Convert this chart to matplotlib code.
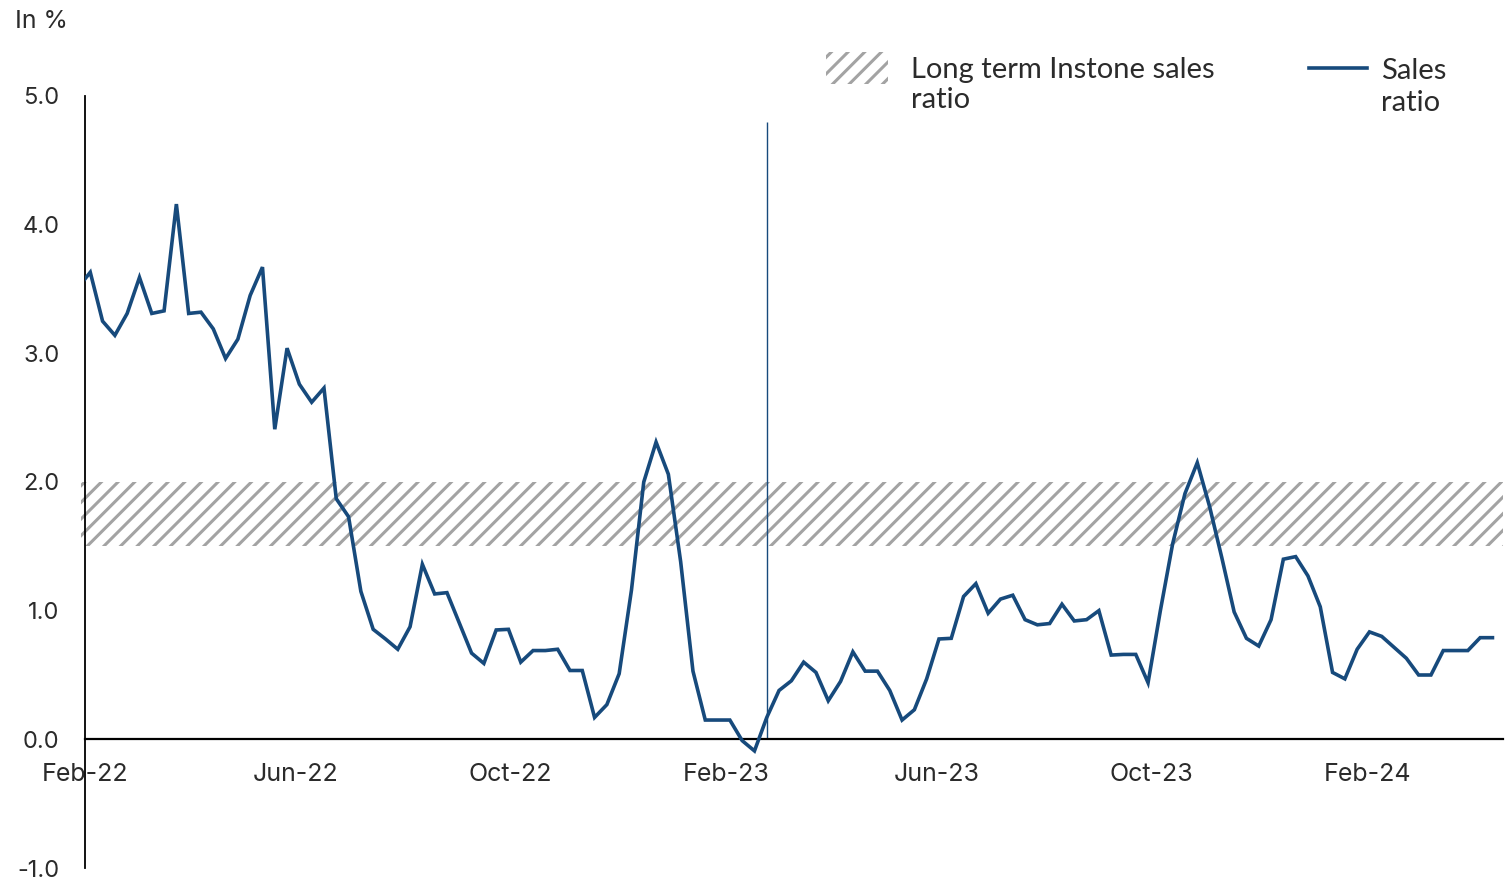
import matplotlib
matplotlib.use("Agg")
import matplotlib.pyplot as plt
import matplotlib.transforms as mtransforms
from matplotlib.patches import Rectangle
from matplotlib.lines import Line2D
import pandas as pd

plt.rcParams['font.family'] = ['Inter', 'DejaVu Sans']
plt.rcParams['hatch.linewidth'] = 2.2

# ---------------- data ----------------
start_date = "2022-01-28"          # weekly observations
sales_ratio = [
    3.51, 3.63, 3.25, 3.14, 3.31, 3.59, 3.31, 3.33, 4.16, 3.31,
    3.32, 3.19, 2.96, 3.11, 3.45, 3.67, 2.41, 3.04, 2.76, 2.62,
    2.73, 1.87, 1.73, 1.15, 0.855, 0.78, 0.70, 0.875, 1.36, 1.13,
    1.14, 0.905, 0.67, 0.59, 0.85, 0.855, 0.60, 0.69, 0.69, 0.70,
    0.535, 0.535, 0.17, 0.27, 0.51, 1.16, 2.00, 2.31, 2.06, 1.38,
    0.53, 0.15, 0.15, 0.15, -0.01, -0.09, 0.17, 0.38, 0.455, 0.60,
    0.52, 0.30, 0.45, 0.68, 0.53, 0.53, 0.38, 0.15, 0.23, 0.47,
    0.78, 0.785, 1.11, 1.21, 0.98, 1.09, 1.12, 0.93, 0.89, 0.90,
    1.05, 0.92, 0.93, 1.00, 0.655, 0.66, 0.66, 0.44, 1.00, 1.52,
    1.91, 2.15, 1.81, 1.41, 0.99, 0.785, 0.725, 0.93, 1.40, 1.42,
    1.27, 1.03, 0.52, 0.47, 0.70, 0.835, 0.80, 0.715, 0.63, 0.50,
    0.50, 0.69, 0.69, 0.69, 0.79, 0.79,
]
band_low, band_high = 1.5, 2.0
marker_date = "2023-02-24"
marker_top = 4.8
x_start, x_end = "2022-02-01", "2024-04-18"
x_tick_dates = ["2022-02-01", "2022-06-01", "2022-10-01", "2023-02-01",
                "2023-06-01", "2023-10-01", "2024-02-01"]
x_tick_labels = ["Feb-22", "Jun-22", "Oct-22", "Feb-23", "Jun-23", "Oct-23", "Feb-24"]
y_ticks = [-1.0, 0.0, 1.0, 2.0, 3.0, 4.0, 5.0]
y_tick_labels = ["-1.0", "0.0", "1.0", "2.0", "3.0", "4.0", "5.0"]
unit_label = "In %"
band_label = ["Long term Instone sales", "ratio"]
line_label = ["Sales", "ratio"]

# ---------------- style ----------------
LINE_C = "#174a7c"
HATCH_C = "#a3a3a3"
TXT_C = "#2b2b2b"
LEG_FONT = ['Lato', 'DejaVu Sans']
W, H = 1506, 880

dates = pd.date_range(start_date, periods=len(sales_ratio), freq="7D")

fig = plt.figure(figsize=(W / 100, H / 100), dpi=100)
ax = fig.add_axes([85 / W, 1 - 868 / H, (1503 - 85) / W, (868 - 96) / H])

# hatched band (extends slightly left of axis, like the original)
trans = mtransforms.blended_transform_factory(ax.transAxes, ax.transData)
band = Rectangle((-0.003, band_low), 1.003, band_high - band_low, transform=trans,
                 facecolor="none", edgecolor=HATCH_C, hatch="//", linewidth=0,
                 clip_on=False, zorder=1)
ax.add_patch(band)

ax.plot(dates, sales_ratio, color=LINE_C, lw=2.6, zorder=3, solid_joinstyle="miter")
ax.vlines(pd.Timestamp(marker_date), 0, marker_top, color=LINE_C, lw=1.0, zorder=2)

ax.set_xlim(pd.Timestamp(x_start), pd.Timestamp(x_end))
ax.set_ylim(-1, 5)

ax.spines["top"].set_visible(False)
ax.spines["right"].set_visible(False)
ax.spines["bottom"].set_position(("data", 0))
ax.spines["bottom"].set_linewidth(1.6)
ax.spines["bottom"].set_color("black")
ax.spines["bottom"].set_zorder(2.5)
ax.spines["left"].set_linewidth(1.3)
ax.spines["left"].set_color("black")

ax.set_xticks([pd.Timestamp(d) for d in x_tick_dates])
ax.set_xticklabels(x_tick_labels)
ax.set_yticks(y_ticks)
ax.set_yticklabels(y_tick_labels)
ax.tick_params(axis="x", length=0, pad=17, labelsize=18, labelcolor=TXT_C)
ax.tick_params(axis="y", length=0, pad=18.5, labelsize=17, labelcolor=TXT_C)

def px(x, y):
    return x / W, 1 - y / H

fig.text(*px(15, 27.5), unit_label, fontsize=18, color=TXT_C, va="baseline", ha="left")

# legend
lx0, ly0 = px(826, 84)
fig.patches.append(Rectangle((lx0, ly0), 62 / W, 32 / H, transform=fig.transFigure,
                             facecolor="none", edgecolor=HATCH_C, hatch="//",
                             linewidth=0, figure=fig))
fig.text(*px(911, 78.3), band_label[0], fontsize=21, color=TXT_C, va="baseline",
         family=LEG_FONT)
fig.text(*px(911, 108.3), band_label[1], fontsize=21, color=TXT_C, va="baseline",
         family=LEG_FONT)
fig.lines.append(Line2D([1309 / W, 1367 / W], [1 - 67.7 / H, 1 - 67.7 / H],
                        transform=fig.transFigure, color=LINE_C, lw=2.6, figure=fig))
fig.text(*px(1381, 79.3), line_label[0], fontsize=21, color=TXT_C, va="baseline",
         family=LEG_FONT)
fig.text(*px(1381, 111), line_label[1], fontsize=21, color=TXT_C, va="baseline",
         family=LEG_FONT)

fig.savefig("out.png", dpi=100)
